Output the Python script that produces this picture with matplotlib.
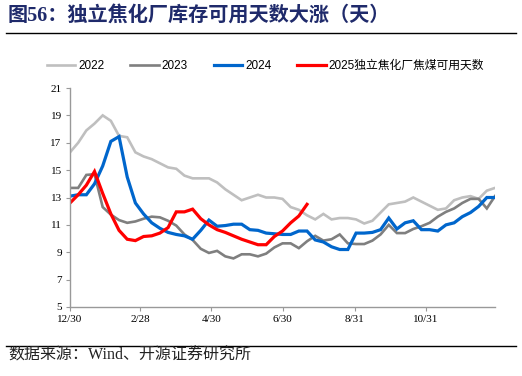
import matplotlib
matplotlib.use('Agg')
import matplotlib.pyplot as plt
import numpy as np

# weekly readings (days since 12/30)
y2022 = [16.3, 17.0, 17.9, 18.4, 19.0, 18.6, 17.5, 17.4, 16.3, 16.0,
         15.8, 15.5, 15.2, 15.1, 14.6, 14.4, 14.4, 14.4, 14.1, 13.6,
         13.2, 12.8, 13.0, 13.2, 13.0, 13.0, 12.9, 12.3, 12.1, 11.7,
         11.4, 11.8, 11.4, 11.5, 11.5, 11.4, 11.1, 11.3, 11.9, 12.5,
         12.6, 12.7, 13.0, 12.7, 12.4, 12.1, 12.2, 12.8, 13.0, 13.1,
         12.9, 13.5, 13.7]
y2023 = [13.7, 13.7, 14.65, 14.7, 12.3, 11.75, 11.35, 11.15, 11.25, 11.45,
         11.6, 11.55, 11.3, 10.95, 10.3, 9.9, 9.25, 8.95, 9.1, 8.7,
         8.55, 8.85, 8.85, 8.7, 8.9, 9.35, 9.65, 9.65, 9.3, 9.8,
         10.2, 9.85, 9.95, 10.3, 9.65, 9.6, 9.6, 9.85, 10.3, 11.0,
         10.4, 10.4, 10.7, 10.9, 11.15, 11.6, 11.95, 12.2, 12.6, 12.9,
         12.9, 12.2, 13.1]
y2024 = [13.1, 13.2, 13.2, 14.0, 15.3, 17.1, 17.45, 14.5, 12.6, 11.8,
         11.15, 10.75, 10.45, 10.3, 10.2, 9.95, 10.6, 11.35, 10.9, 10.95,
         11.05, 11.05, 10.65, 10.6, 10.4, 10.35, 10.3, 10.3, 10.55, 10.55,
         9.9, 9.75, 9.4, 9.2, 9.2, 10.4, 10.4, 10.45, 10.65, 11.5,
         10.7, 11.15, 11.3, 10.65, 10.65, 10.55, 11.0, 11.15, 11.6, 11.9,
         12.35, 13.0, 13.0]
y2025 = [12.6, 13.2, 13.9, 14.9, 13.3, 11.8, 10.6, 9.95, 9.85, 10.15,
         10.2, 10.4, 10.8, 11.95, 11.95, 12.15, 11.45, 11.0, 10.65, 10.45,
         10.2, 9.95, 9.75, 9.55, 9.55, 10.15, 10.55, 11.15, 11.65, 12.5]

tick_days = [0, 60, 121, 182, 244, 305]
tick_labels = ['12/30', '2/28', '4/30', '6/30', '8/31', '10/31']
series_names = ['2022', '2023', '2024', '2025独立焦化厂焦煤可用天数']

cjk = 'Noto Sans CJK SC'

fig = plt.figure(figsize=(5.22, 3.76), dpi=100)
ax = fig.add_axes([70/522, 1 - 307/376, 425/522, 219/376])

series = [y2022, y2023, y2024, y2025]
colors = ['#BFBFBF', '#7F7F7F', '#0066CC', '#FF0000']
widths = [1.9, 1.9, 2.3, 2.3]
for vals, c, lw, name in zip(series, colors, widths, series_names):
    days = np.arange(len(vals)) * 7
    ax.plot(days, vals, color=c, lw=lw, label=name, solid_joinstyle='miter')

ax.set_xlim(0, 364)
ax.set_ylim(5, 21)
ax.set_yticks(np.arange(5, 22, 2))
ax.set_xticks(tick_days)
ax.set_xticklabels(tick_labels)

for s in ['top', 'right']:
    ax.spines[s].set_visible(False)
for s in ['left', 'bottom']:
    ax.spines[s].set_color('#999999')
    ax.spines[s].set_linewidth(1.0)
ax.tick_params(axis='both', direction='out', length=3, width=0.8, color='#999999',
               labelsize=8, pad=3)
for lab in ax.get_xticklabels() + ax.get_yticklabels():
    lab.set_family(['Liberation Serif', cjk])

leg = fig.legend(loc='center left', bbox_to_anchor=(47/522, 1 - 66/376),
                 ncol=4, frameon=False, borderpad=0, borderaxespad=0,
                 handlelength=2.4, handletextpad=0.25, columnspacing=2.2,
                 prop={'family': ['Liberation Sans', cjk], 'size': 8.5})

# title, rules and source
fig.text(8/522, 1 - 16/376, '图56：独立焦化厂库存可用天数大涨（天）',
         family=['Liberation Serif', cjk], weight='bold', size=14.5,
         color='#1F2A6B', va='center', ha='left')
fig.add_artist(plt.Line2D([6/522, 516/522], [1 - 33/376, 1 - 33/376],
                          color='black', lw=1.0))
fig.add_artist(plt.Line2D([6/522, 516/522], [1 - 346/376, 1 - 346/376],
                          color='black', lw=1.0))
fig.text(8/522, 1 - 356/376, '数据来源：Wind、开源证券研究所',
         family=['Liberation Serif', cjk], size=11.5, color='#222222',
         va='center', ha='left')

fig.savefig('out.png', dpi=100)
